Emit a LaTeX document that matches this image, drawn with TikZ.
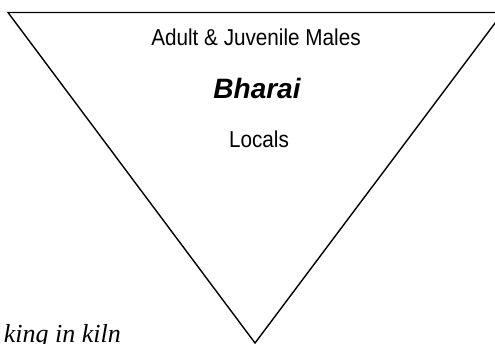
\documentclass[tikz,border=0pt]{standalone}
\usepackage{fontspec}
\setmainfont{Liberation Serif}
\newfontfamily\arialfont[FakeStretch=0.9]{Liberation Sans}
\newfontfamily\arialbold{Liberation Sans}
\usetikzlibrary{positioning, calc}

\begin{document}
\begin{tikzpicture}[x=1pt,y=-1pt]
  \useasboundingbox (0,0) rectangle (495,344);
  \clip (0,0) rectangle (495,344);
  \coordinate (L) at (8,12.5);
  \coordinate (R) at (503,12.5);
  \coordinate (V) at (255,343);
  \draw[line width=1.4pt] (L)--(R)--(V)--cycle;
  \node[anchor=base, inner sep=0] (males) at (256,46) {\arialfont\fontsize{23}{26}\selectfont Adult \& Juvenile Males};
  \node[anchor=base, inner sep=0] (bharai) at (257,99) {\arialbold\fontsize{28}{32}\selectfont\bfseries\itshape Bharai};
  \node[anchor=base, inner sep=0] (locals) at (259,148) {\arialfont\fontsize{23}{26}\selectfont Locals};
  \node[anchor=base east, inner sep=0] (kiln) at (121,342) {\fontsize{26}{30}\selectfont\itshape king in kiln};
\end{tikzpicture}
\end{document}
